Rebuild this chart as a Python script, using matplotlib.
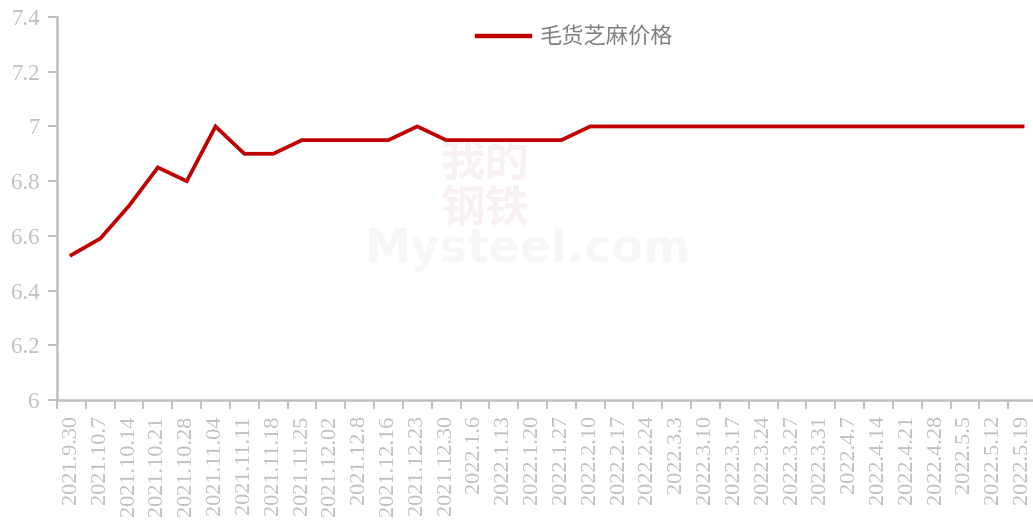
import matplotlib
matplotlib.use("Agg")
import matplotlib.pyplot as plt
import numpy as np

dates = ["2021.9.30", "2021.10.7", "2021.10.14", "2021.10.21", "2021.10.28", "2021.11.04",
         "2021.11.11", "2021.11.18", "2021.11.25", "2021.12.02", "2021.12.8", "2021.12.16",
         "2021.12.23", "2021.12.30", "2022.1.6", "2022.1.13", "2022.1.20", "2022.1.27",
         "2022.2.10", "2022.2.17", "2022.2.24", "2022.3.3", "2022.3.10", "2022.3.17",
         "2022.3.24", "2022.3.27", "2022.3.31", "2022.4.7", "2022.4.14", "2022.4.21",
         "2022.4.28", "2022.5.5", "2022.5.12", "2022.5.19"]
prices = [6.53, 6.59, 6.71, 6.85, 6.80, 7.00, 6.90, 6.90, 6.95, 6.95, 6.95, 6.95,
          7.00, 6.95, 6.95, 6.95, 6.95, 6.95, 7.00, 7.00, 7.00, 7.00, 7.00, 7.00,
          7.00, 7.00, 7.00, 7.00, 7.00, 7.00, 7.00, 7.00, 7.00, 7.00]
series_name = "毛货芝麻价格"
yticks = [6.0, 6.2, 6.4, 6.6, 6.8, 7.0, 7.2, 7.4]
ylabels = ["6", "6.2", "6.4", "6.6", "6.8", "7", "7.2", "7.4"]

grey = "#c0c0c0"
W, H = 1033, 521
fig = plt.figure(figsize=(W / 100, H / 100), dpi=100)
left, right, top, bottom = 57, 1037, 17, 400
ax = fig.add_axes([left / W, 1 - bottom / H, (right - left) / W, (bottom - top) / H])

# faint watermark, drawn beneath the data line
ax.text(485 / W, 1 - 186 / H, "我的\n钢铁", fontsize=32, color="#f9f1f1", ha="center", va="center",
        family="Noto Sans CJK SC", fontweight="bold", linespacing=1.0, zorder=1,
        transform=fig.transFigure)
ax.text(528 / W, 1 - 250 / H, "Mysteel.com", fontsize=33, color="#f7f7f7", ha="center", va="center",
        family="DejaVu Sans", fontweight="bold", zorder=1, transform=fig.transFigure)

x = np.arange(len(dates))
ax.plot(x, prices, color="#c00000", lw=2.7, label=series_name, solid_joinstyle="miter", zorder=3)

ax.set_xlim(-0.5, len(dates) - 0.5)
ax.set_ylim(6.0, 7.4)
ax.set_yticks(yticks)
ax.set_yticklabels(ylabels, family="Liberation Serif", fontsize=16.5, color=grey)
ax.set_xticks(x)
ax.set_xticklabels(dates, rotation=90, family="Liberation Serif", fontsize=16, color=grey,
                   va="top")
ax.set_xticks(np.arange(-0.5, len(dates)), minor=True)
ax.tick_params(axis="x", which="major", length=0, pad=11)
ax.tick_params(axis="x", which="minor", length=6.5, color=grey, width=1.4)
ax.tick_params(axis="y", length=6.5, color=grey, width=1.4, pad=6)

for s in ["top", "right"]:
    ax.spines[s].set_visible(False)
for s in ["left", "bottom"]:
    ax.spines[s].set_color(grey)
    ax.spines[s].set_linewidth(1.8)

leg = ax.legend(loc="center", bbox_to_anchor=(575 / W, 1 - 37 / H), bbox_transform=fig.transFigure,
                frameon=False, prop={"family": "Noto Sans CJK SC", "size": 16},
                handlelength=2.4, handletextpad=0.45, borderpad=0, borderaxespad=0)
for t in leg.get_texts():
    t.set_color("#808080")
for l in leg.get_lines():
    l.set_linewidth(3.2)

fig.savefig("out.png", dpi=100, facecolor="white")
